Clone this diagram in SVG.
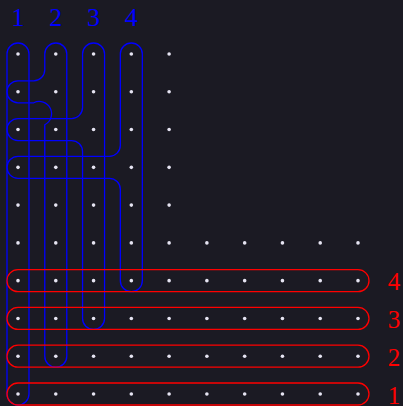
<svg xmlns="http://www.w3.org/2000/svg" width="403" height="406" viewBox="0 0 403 406">
<style>
.dot{fill:#e6e4f2}
.blue{fill:none;stroke:#0000ff;stroke-width:1.3}
.red{fill:none;stroke:#ff0000;stroke-width:1.3}
.lb{font-family:"Liberation Serif","Times New Roman",serif;font-size:26px;text-anchor:middle;fill:#0000ff}
.lr{font-family:"Liberation Serif","Times New Roman",serif;font-size:25px;text-anchor:middle;fill:#ff0000}
</style>
<rect width="403" height="406" fill="#1b1a23"/>
<g id="dots">
<g id="dots-upper">
<circle class="dot" cx="18" cy="54" r="1.8"/><circle class="dot" cx="55.78" cy="54" r="1.8"/><circle class="dot" cx="93.56" cy="54" r="1.8"/><circle class="dot" cx="131.33" cy="54" r="1.8"/><circle class="dot" cx="169.11" cy="54" r="1.8"/>
<circle class="dot" cx="18" cy="91.78" r="1.8"/><circle class="dot" cx="55.78" cy="91.78" r="1.8"/><circle class="dot" cx="93.56" cy="91.78" r="1.8"/><circle class="dot" cx="131.33" cy="91.78" r="1.8"/><circle class="dot" cx="169.11" cy="91.78" r="1.8"/>
<circle class="dot" cx="18" cy="129.56" r="1.8"/><circle class="dot" cx="55.78" cy="129.56" r="1.8"/><circle class="dot" cx="93.56" cy="129.56" r="1.8"/><circle class="dot" cx="131.33" cy="129.56" r="1.8"/><circle class="dot" cx="169.11" cy="129.56" r="1.8"/>
<circle class="dot" cx="18" cy="167.33" r="1.8"/><circle class="dot" cx="55.78" cy="167.33" r="1.8"/><circle class="dot" cx="93.56" cy="167.33" r="1.8"/><circle class="dot" cx="131.33" cy="167.33" r="1.8"/><circle class="dot" cx="169.11" cy="167.33" r="1.8"/>
<circle class="dot" cx="18" cy="205.11" r="1.8"/><circle class="dot" cx="55.78" cy="205.11" r="1.8"/><circle class="dot" cx="93.56" cy="205.11" r="1.8"/><circle class="dot" cx="131.33" cy="205.11" r="1.8"/><circle class="dot" cx="169.11" cy="205.11" r="1.8"/>
</g>
<g id="dots-lower">
<circle class="dot" cx="18" cy="242.89" r="1.8"/><circle class="dot" cx="55.78" cy="242.89" r="1.8"/><circle class="dot" cx="93.56" cy="242.89" r="1.8"/><circle class="dot" cx="131.33" cy="242.89" r="1.8"/><circle class="dot" cx="169.11" cy="242.89" r="1.8"/><circle class="dot" cx="206.89" cy="242.89" r="1.8"/><circle class="dot" cx="244.67" cy="242.89" r="1.8"/><circle class="dot" cx="282.44" cy="242.89" r="1.8"/><circle class="dot" cx="320.22" cy="242.89" r="1.8"/><circle class="dot" cx="358" cy="242.89" r="1.8"/>
<circle class="dot" cx="18" cy="280.67" r="1.8"/><circle class="dot" cx="55.78" cy="280.67" r="1.8"/><circle class="dot" cx="93.56" cy="280.67" r="1.8"/><circle class="dot" cx="131.33" cy="280.67" r="1.8"/><circle class="dot" cx="169.11" cy="280.67" r="1.8"/><circle class="dot" cx="206.89" cy="280.67" r="1.8"/><circle class="dot" cx="244.67" cy="280.67" r="1.8"/><circle class="dot" cx="282.44" cy="280.67" r="1.8"/><circle class="dot" cx="320.22" cy="280.67" r="1.8"/><circle class="dot" cx="358" cy="280.67" r="1.8"/>
<circle class="dot" cx="18" cy="318.44" r="1.8"/><circle class="dot" cx="55.78" cy="318.44" r="1.8"/><circle class="dot" cx="93.56" cy="318.44" r="1.8"/><circle class="dot" cx="131.33" cy="318.44" r="1.8"/><circle class="dot" cx="169.11" cy="318.44" r="1.8"/><circle class="dot" cx="206.89" cy="318.44" r="1.8"/><circle class="dot" cx="244.67" cy="318.44" r="1.8"/><circle class="dot" cx="282.44" cy="318.44" r="1.8"/><circle class="dot" cx="320.22" cy="318.44" r="1.8"/><circle class="dot" cx="358" cy="318.44" r="1.8"/>
<circle class="dot" cx="18" cy="356.22" r="1.8"/><circle class="dot" cx="55.78" cy="356.22" r="1.8"/><circle class="dot" cx="93.56" cy="356.22" r="1.8"/><circle class="dot" cx="131.33" cy="356.22" r="1.8"/><circle class="dot" cx="169.11" cy="356.22" r="1.8"/><circle class="dot" cx="206.89" cy="356.22" r="1.8"/><circle class="dot" cx="244.67" cy="356.22" r="1.8"/><circle class="dot" cx="282.44" cy="356.22" r="1.8"/><circle class="dot" cx="320.22" cy="356.22" r="1.8"/><circle class="dot" cx="358" cy="356.22" r="1.8"/>
<circle class="dot" cx="18" cy="394" r="1.8"/><circle class="dot" cx="55.78" cy="394" r="1.8"/><circle class="dot" cx="93.56" cy="394" r="1.8"/><circle class="dot" cx="131.33" cy="394" r="1.8"/><circle class="dot" cx="169.11" cy="394" r="1.8"/><circle class="dot" cx="206.89" cy="394" r="1.8"/><circle class="dot" cx="244.67" cy="394" r="1.8"/><circle class="dot" cx="282.44" cy="394" r="1.8"/><circle class="dot" cx="320.22" cy="394" r="1.8"/><circle class="dot" cx="358" cy="394" r="1.8"/>
</g>
</g>
<g id="blue-hook-1">
<rect class="blue" x="7" y="43" width="22" height="362" rx="11"/>
<text class="lb" x="18" y="25.5">1</text>
</g>
<g id="blue-hook-2">
<path class="blue" d="M44.78,54 A11,11 0 0 1 66.78,54 L66.78,356.22 A11,11 0 0 1 44.78,356.22 L44.78,124.78 A11,11 0 0 0 33.78,102.78 L18,102.78 A11,11 0 0 1 18,80.78 L33.78,80.78 A11,11 0 0 0 44.78,69.78 Z"/>
<text class="lb" x="55.78" y="25.5">2</text>
</g>
<g id="blue-hook-3">
<path class="blue" d="M82.56,54 A11,11 0 0 1 104.56,54 L104.56,318.44 A11,11 0 0 1 82.56,318.44 L82.56,151.56 A11,11 0 0 0 71.56,140.56 L18,140.56 A11,11 0 0 1 18,118.56 L71.56,118.56 A11,11 0 0 0 82.56,107.56 Z"/>
<text class="lb" x="93.56" y="25.5">3</text>
</g>
<g id="blue-hook-4">
<path class="blue" d="M120.33,54 A11,11 0 0 1 142.33,54 L142.33,280.67 A11,11 0 0 1 120.33,280.67 L120.33,189.33 A11,11 0 0 0 109.33,178.33 L18,178.33 A11,11 0 0 1 18,156.33 L109.33,156.33 A11,11 0 0 0 120.33,145.33 Z"/>
<text class="lb" x="131.33" y="25.5">4</text>
</g>
<g id="red-row-4">
<rect class="red" x="7" y="269.67" width="362" height="22" rx="11"/>
<text class="lr" x="394" y="290">4</text>
</g>
<g id="red-row-3">
<rect class="red" x="7" y="307.44" width="362" height="22" rx="11"/>
<text class="lr" x="394" y="328">3</text>
</g>
<g id="red-row-2">
<rect class="red" x="7" y="345.22" width="362" height="22" rx="11"/>
<text class="lr" x="394" y="366">2</text>
</g>
<g id="red-row-1">
<rect class="red" x="7" y="383" width="362" height="22" rx="11"/>
<text class="lr" x="394" y="403.5">1</text>
</g>
</svg>
